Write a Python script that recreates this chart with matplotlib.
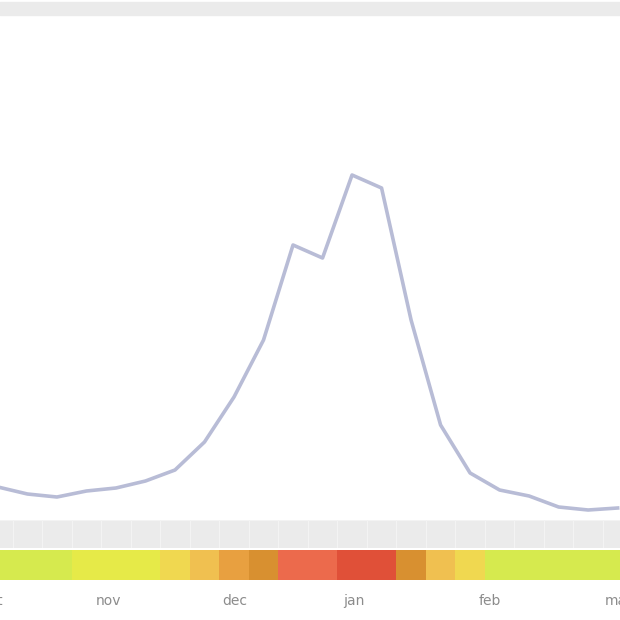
import matplotlib
matplotlib.use("Agg")
import matplotlib.pyplot as plt
from matplotlib.colors import ListedColormap, BoundaryNorm
from matplotlib.patches import Rectangle
import numpy as np

# wekelijkse schatting (willekeurige eenheid) en activiteitsniveau per week
weken = list(range(22))
waarden = [280, 210, 180, 240, 270, 340, 450, 730, 1180, 1750, 2700, 2570,
           3400, 3270, 1950, 900, 420, 250, 190, 80, 50, 70]
niveaus = [0, 0, 0, 1, 1, 1, 2, 3, 4, 5, 6, 6, 7, 7, 5, 3, 2, 0, 0, 0, 0, 0]
maanden = ["oct", "nov", "dec", "jan", "feb", "mar"]
maand_pos = [-0.2, 3.73, 8.03, 12.05, 16.67, 21.05]

kleuren = ["#d6ea4e", "#e6ea48", "#f0d850", "#f0c050",
           "#e8a040", "#d89030", "#ec6a4c", "#e05038"]
cmap = ListedColormap(kleuren)
norm = BoundaryNorm(np.arange(-0.5, len(kleuren)), cmap.N)

fig = plt.figure(figsize=(6.2, 6.2), dpi=100)
H = 620.0
xmin, xmax = 0.07, 21.08

# grijze balk bovenaan
fig.patches.append(Rectangle((0, 1 - 15 / H), 1, 13 / H, transform=fig.transFigure,
                             color="#ebebeb", zorder=0))

# lijn
ax = fig.add_axes([0, 1 - 515 / H, 1, 500 / H])
ax.plot(weken, waarden, color="#b8bcd6", lw=2.6, solid_joinstyle="round")
ax.set_xlim(xmin, xmax)
ax.set_ylim(0, 5000)
ax.axis("off")

# grijze band met cellen
ax2 = fig.add_axes([0, 1 - 548 / H, 1, 28 / H])
ax2.bar(weken, [1] * len(weken), width=1.0, color="#ebebeb", edgecolor="#f3f3f3", lw=0.8)
ax2.set_xlim(xmin, xmax)
ax2.set_ylim(0, 1)
ax2.axis("off")

# kleurband
ax3 = fig.add_axes([0, 1 - 580 / H, 1, 30 / H])
ax3.bar(weken, [1] * len(weken), width=1.0, color=cmap(norm(niveaus)), lw=0)
ax3.set_xlim(xmin, xmax)
ax3.set_ylim(0, 1)
ax3.axis("off")

# maandlabels
ax4 = fig.add_axes([0, 0, 1, 1 - 582 / H])
ax4.set_xlim(xmin, xmax)
ax4.set_ylim(0, 1)
ax4.axis("off")
for m, p in zip(maanden, maand_pos):
    ax4.text(p, 0.5, m, ha="center", va="center", fontsize=10, color="#8c8c8c",
             clip_on=False)

fig.savefig("out.png", dpi=100)
